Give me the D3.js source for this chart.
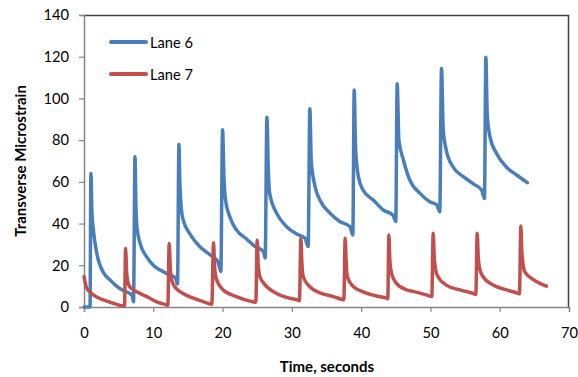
<!DOCTYPE html>
<html>
<head>
<meta charset="utf-8">
<script src="https://cdn.jsdelivr.net/npm/d3@7"></script>
<style>
  body { margin: 0; background: #fff; }
  svg { display: block; font-family: Lato, "Open Sans", sans-serif; }
</style>
</head>
<body>
<svg id="chart" width="578" height="377"></svg>
<script>
// time (s), transverse microstrain
const lane6 = [
  [0, 0], [0.87, 0], [1.0, 64], [1.15, 45], [1.35, 37], [1.83, 26], [2.8, 16.5], [3.75, 13],
  [4.7, 10], [5.6, 8], [6.6, 6.5], [6.95, 5.5], [7.15, 2.5], [7.36, 72],
  [7.5, 48], [7.65, 38], [8.1, 30.5], [9.05, 24], [10, 20], [11, 17.7], [12.4, 15.3], [13.2, 14], [13.5, 11], [13.7, 78],
  [13.85, 58], [14.05, 47], [14.3, 42], [15.3, 35], [16.7, 29], [18.2, 25], [19.3, 22], [19.75, 17], [20.0, 85],
  [20.2, 62], [20.4, 52], [21.07, 43], [22.0, 37], [23.5, 32.5], [24.7, 29], [25.9, 26.5], [26.15, 23.5], [26.4, 91],
  [26.6, 66], [26.8, 54.5], [27.8, 45], [29.25, 38.5], [30.7, 35], [31.9, 33], [32.35, 29], [32.6, 95],
  [32.8, 70], [33.35, 57.7], [34.05, 51.3], [35.5, 45], [36.9, 41], [38.4, 38.5], [38.8, 34.5], [39.0, 104],
  [39.2, 76], [39.6, 62.5], [40.3, 56], [41.75, 51.3], [43.2, 46.5], [44.6, 44], [45.0, 41], [45.2, 107],
  [45.45, 80], [46.1, 70.5], [47.0, 61], [48.5, 54.5], [49.9, 50.5], [50.9, 49], [51.35, 45.7], [51.6, 114.4],
  [51.85, 85], [52.3, 75], [53.3, 67], [54.75, 62.5], [56.2, 59], [57.4, 56], [57.8, 52], [58.0, 119.7],
  [58.2, 92], [58.6, 81.6], [59.55, 73.6], [61, 67], [62.45, 63.3], [64.0, 59.6]
];

const lane7 = [
  [0, 14.5], [0.4, 9], [1.35, 5.8], [2.8, 3.4], [4.2, 1.8], [5.7, 0.5], [5.85, 0.5], [6.0, 28],
  [6.15, 17], [6.3, 12.5], [6.6, 9.7], [7.6, 7.3], [9.05, 5], [10.5, 2.5], [11.9, 1], [12.1, 0.8], [12.3, 30.5],
  [12.45, 19], [12.65, 13], [13.1, 9.7], [14.3, 6.5], [15.8, 4.2], [17.7, 2], [18.45, 1.3], [18.7, 30.8],
  [18.85, 19], [19.15, 13], [20.1, 8.2], [22, 5], [24, 2.8], [24.8, 2.3], [25.0, 32],
  [25.15, 20], [25.4, 14.5], [26.4, 9.7], [27.8, 6.5], [29.7, 4.2], [31.0, 3.2], [31.1, 3], [31.3, 33],
  [31.45, 21], [31.65, 14.5], [32.6, 9.7], [34.05, 6.8], [36, 5], [37.3, 3.6], [37.5, 3.5], [37.7, 33],
  [37.85, 21], [38.0, 14.5], [38.9, 9.7], [40.3, 7.3], [42.2, 5.3], [43.7, 4.2], [43.85, 4], [44.0, 34.5],
  [44.15, 22], [44.4, 16], [45.1, 11.3], [46.55, 8.2], [47.5, 7.5], [49.4, 5.8], [50.2, 5], [50.4, 35.3],
  [50.55, 24], [50.75, 18], [51.1, 14.5], [52.3, 10.5], [54.25, 8.2], [56.4, 6.2], [56.55, 6], [56.75, 35.3],
  [56.9, 24], [57.1, 18.5], [57.6, 14.5], [59.05, 10.5], [61, 8.2], [62.7, 6.5], [62.85, 6.3], [63.05, 38.8],
  [63.2, 26], [63.35, 21], [63.6, 17], [64.6, 13.7], [65.8, 11.3], [66.75, 10]
];

const seriesNames = ['Lane 6', 'Lane 7'];
const seriesColors = ['#4a7ebb', '#c0504d'];
const xTicks = [0, 10, 20, 30, 40, 50, 60, 70];
const yTicks = [0, 20, 40, 60, 80, 100, 120, 140];

const margin = { top: 15, right: 9, bottom: 70, left: 84 };
const width = 578 - margin.left - margin.right;
const height = 377 - margin.top - margin.bottom;

const svg = d3.select('#chart');
const g = svg.append('g').attr('transform', `translate(${margin.left},${margin.top})`);

const x = d3.scaleLinear().domain([0, 70]).range([0, width]);
const y = d3.scaleLinear().domain([0, 140]).range([height, 0]);

// plot frame (top and right)
g.append('path')
  .attr('d', `M0,0.5H${width - 0.5}V${height}`)
  .attr('fill', 'none')
  .attr('stroke', '#404040')
  .attr('stroke-width', 1.5);

const xAxis = g.append('g')
  .attr('transform', `translate(0,${height})`)
  .call(d3.axisBottom(x).tickValues(xTicks).tickSize(5).tickPadding(16));
const yAxis = g.append('g')
  .call(d3.axisLeft(y).tickValues(yTicks).tickSize(5).tickPadding(10));

[xAxis, yAxis].forEach(a => {
  a.select('.domain').attr('stroke', '#868686').attr('stroke-width', 1.5);
  a.selectAll('.tick line').attr('stroke', '#868686').attr('stroke-width', 1.2);
  a.selectAll('.tick text').attr('fill', '#000').style('font-size', '14.7px')
    .style('font-family', 'Lato, "Open Sans", sans-serif');
});

const line = d3.line()
  .x(d => x(d[0]))
  .y(d => y(d[1]))
  .curve(d3.curveMonotoneX);

[lane6, lane7].forEach((data, i) => {
  g.append('path')
    .datum(data)
    .attr('fill', 'none')
    .attr('stroke', seriesColors[i])
    .attr('stroke-width', 3.5)
    .attr('stroke-linejoin', 'round')
    .attr('stroke-linecap', 'round')
    .attr('d', line);
});

// legend
const legend = svg.append('g').attr('transform', 'translate(111,42)');
seriesNames.forEach((name, i) => {
  const row = legend.append('g').attr('transform', `translate(0,${i * 32})`);
  row.append('line')
    .attr('x1', 0).attr('x2', 35)
    .attr('stroke', seriesColors[i])
    .attr('stroke-width', 4)
    .attr('stroke-linecap', 'round');
  row.append('text')
    .attr('x', 39).attr('y', 5.5)
    .style('font-size', '14.7px')
    .text(name);
});

// axis titles
svg.append('text')
  .attr('x', 327)
  .attr('y', 372)
  .attr('text-anchor', 'middle')
  .style('font-size', '15px')
  .style('font-weight', 'bold')
  .text('Time, seconds');

svg.append('text')
  .attr('transform', 'translate(26,161) rotate(-90)')
  .attr('text-anchor', 'middle')
  .style('font-size', '15px')
  .style('font-weight', 'bold')
  .text('Transverse Microstrain');
</script>
</body>
</html>
